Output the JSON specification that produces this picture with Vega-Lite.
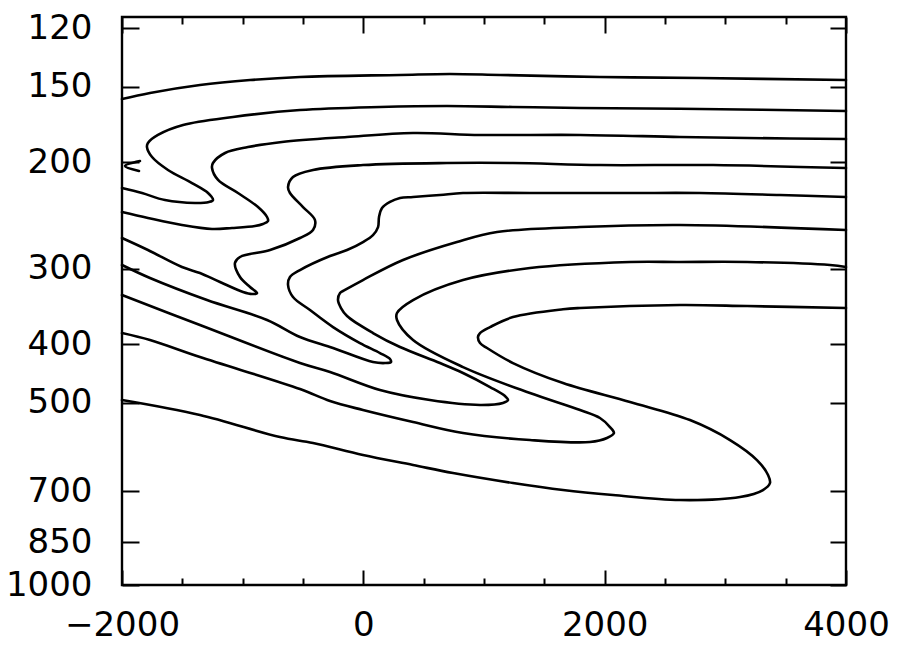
{
  "$schema": "https://vega.github.io/schema/vega-lite/v6.json",
  "width": 724,
  "height": 568,
  "autosize": {"type": "none"},
  "padding": {"left": 122, "top": 17, "right": 55, "bottom": 64},
  "background": "white",
  "config": {
    "view": {"stroke": "#000", "strokeWidth": 2.4},
    "axis": {"domain": false, "grid": false, "tickColor": "#000", "tickWidth": 2, "labelColor": "#000", "labelFont": "DejaVu Sans", "labelFontSize": 34, "labelFlush": false, "labelOverlap": false, "labelBound": false, "title": null}
  },
  "data": {"values": [
    {"c":"a","i":0,"x":-2000,"p":157.2},{"c":"a","i":1,"x":-1768,"p":153.6},{"c":"a","i":2,"x":-1354,"p":149.0},{"c":"a","i":3,"x":-939,"p":146.2},{"c":"a","i":4,"x":-525,"p":144.5},{"c":"a","i":5,"x":304,"p":143.4},{"c":"a","i":6,"x":718,"p":142.9},{"c":"a","i":7,"x":1133,"p":143.4},{"c":"a","i":8,"x":1961,"p":144.5},{"c":"a","i":9,"x":2790,"p":145.1},{"c":"a","i":10,"x":4000,"p":146.2},
    {"c":"b","i":0,"x":4000,"p":164.5},{"c":"b","i":1,"x":2790,"p":163.2},{"c":"b","i":2,"x":1796,"p":162.6},{"c":"b","i":3,"x":1240,"p":162.0},{"c":"b","i":4,"x":693,"p":161.4},{"c":"b","i":5,"x":138,"p":162.0},{"c":"b","i":6,"x":-525,"p":163.9},{"c":"b","i":7,"x":-1080,"p":168.3},{"c":"b","i":8,"x":-1494,"p":173.5},{"c":"b","i":9,"x":-1702,"p":180.2},{"c":"b","i":10,"x":-1785,"p":185.8},{"c":"b","i":11,"x":-1793,"p":188.7},{"c":"b","i":12,"x":-1751,"p":196.0},{"c":"b","i":13,"x":-1619,"p":205.9},{"c":"b","i":14,"x":-1420,"p":216.4},{"c":"b","i":15,"x":-1287,"p":224.8},{"c":"b","i":16,"x":-1246,"p":230.9},{"c":"b","i":17,"x":-1279,"p":232.6},{"c":"b","i":18,"x":-1395,"p":233.5},{"c":"b","i":19,"x":-1644,"p":230.9},{"c":"b","i":20,"x":-1834,"p":224.8},{"c":"b","i":21,"x":-2000,"p":220.5},
    {"c":"c","i":0,"x":4000,"p":183.0},{"c":"c","i":1,"x":3180,"p":182.3},{"c":"c","i":2,"x":2624,"p":181.6},{"c":"c","i":3,"x":1796,"p":180.2},{"c":"c","i":4,"x":967,"p":180.2},{"c":"c","i":5,"x":412,"p":178.9},{"c":"c","i":6,"x":-135,"p":181.6},{"c":"c","i":7,"x":-674,"p":185.1},{"c":"c","i":8,"x":-956,"p":188.7},{"c":"c","i":9,"x":-1146,"p":193.0},{"c":"c","i":10,"x":-1246,"p":200.5},{"c":"c","i":11,"x":-1254,"p":204.4},{"c":"c","i":12,"x":-1204,"p":213.9},{"c":"c","i":13,"x":-1039,"p":224.8},{"c":"c","i":14,"x":-873,"p":237.1},{"c":"c","i":15,"x":-798,"p":246.3},{"c":"c","i":16,"x":-790,"p":250.1},{"c":"c","i":17,"x":-832,"p":252.9},{"c":"c","i":18,"x":-898,"p":254.9},{"c":"c","i":19,"x":-1088,"p":256.8},{"c":"c","i":20,"x":-1254,"p":257.8},{"c":"c","i":21,"x":-1503,"p":253.9},{"c":"c","i":22,"x":-1785,"p":247.2},{"c":"c","i":23,"x":-2000,"p":241.7},
    {"c":"d","i":0,"x":4000,"p":204.4},{"c":"d","i":1,"x":2898,"p":202.1},{"c":"d","i":2,"x":1961,"p":202.1},{"c":"d","i":3,"x":1240,"p":200.5},{"c":"d","i":4,"x":693,"p":200.5},{"c":"d","i":5,"x":-3,"p":202.1},{"c":"d","i":6,"x":-417,"p":205.9},{"c":"d","i":7,"x":-583,"p":211.5},{"c":"d","i":8,"x":-624,"p":219.7},{"c":"d","i":9,"x":-608,"p":224.8},{"c":"d","i":10,"x":-500,"p":237.1},{"c":"d","i":11,"x":-401,"p":249.1},{"c":"d","i":12,"x":-417,"p":258.8},{"c":"d","i":13,"x":-525,"p":266.8},{"c":"d","i":14,"x":-773,"p":279.3},{"c":"d","i":15,"x":-1022,"p":286.8},{"c":"d","i":16,"x":-1064,"p":293.4},{"c":"d","i":17,"x":-1022,"p":309.5},{"c":"d","i":18,"x":-939,"p":321.5},{"c":"d","i":19,"x":-881,"p":329.0},{"c":"d","i":20,"x":-923,"p":330.2},{"c":"d","i":21,"x":-997,"p":327.7},{"c":"d","i":22,"x":-1188,"p":315.5},{"c":"d","i":23,"x":-1354,"p":304.8},{"c":"d","i":24,"x":-1503,"p":298.0},{"c":"d","i":25,"x":-1785,"p":279.3},{"c":"d","i":26,"x":-2000,"p":266.8},
    {"c":"e","i":0,"x":4000,"p":228.2},{"c":"e","i":1,"x":3453,"p":226.5},{"c":"e","i":2,"x":2790,"p":224.8},{"c":"e","i":3,"x":2210,"p":224.8},{"c":"e","i":4,"x":1381,"p":224.8},{"c":"e","i":5,"x":826,"p":224.8},{"c":"e","i":6,"x":635,"p":226.5},{"c":"e","i":7,"x":412,"p":228.2},{"c":"e","i":8,"x":304,"p":229.1},{"c":"e","i":9,"x":221,"p":232.6},{"c":"e","i":10,"x":155,"p":238.0},{"c":"e","i":11,"x":130,"p":246.3},{"c":"e","i":12,"x":122,"p":255.9},{"c":"e","i":13,"x":80,"p":263.8},{"c":"e","i":14,"x":-3,"p":270.9},{"c":"e","i":15,"x":-135,"p":279.3},{"c":"e","i":16,"x":-276,"p":285.7},{"c":"e","i":17,"x":-525,"p":301.4},{"c":"e","i":18,"x":-608,"p":309.5},{"c":"e","i":19,"x":-624,"p":319.1},{"c":"e","i":20,"x":-583,"p":334.0},{"c":"e","i":21,"x":-442,"p":351.0},{"c":"e","i":22,"x":-251,"p":374.5},{"c":"e","i":23,"x":-28,"p":398.0},{"c":"e","i":24,"x":138,"p":413.4},{"c":"e","i":25,"x":221,"p":423.0},{"c":"e","i":26,"x":229,"p":427.8},{"c":"e","i":27,"x":180,"p":429.5},{"c":"e","i":28,"x":80,"p":427.8},{"c":"e","i":29,"x":-251,"p":405.6},{"c":"e","i":30,"x":-525,"p":389.0},{"c":"e","i":31,"x":-798,"p":364.6},{"c":"e","i":32,"x":-1296,"p":337.9},{"c":"e","i":33,"x":-1768,"p":310.7},{"c":"e","i":34,"x":-2000,"p":295.7},
    {"c":"f","i":0,"x":4000,"p":258.8},{"c":"f","i":1,"x":2624,"p":253.9},{"c":"f","i":2,"x":1796,"p":255.9},{"c":"f","i":3,"x":1108,"p":260.8},{"c":"f","i":4,"x":776,"p":270.9},{"c":"f","i":5,"x":329,"p":290.1},{"c":"f","i":6,"x":-3,"p":313.1},{"c":"f","i":7,"x":-152,"p":325.2},{"c":"f","i":8,"x":-193,"p":329.0},{"c":"f","i":9,"x":-210,"p":337.9},{"c":"f","i":10,"x":-185,"p":348.3},{"c":"f","i":11,"x":-135,"p":359.1},{"c":"f","i":12,"x":80,"p":383.1},{"c":"f","i":13,"x":304,"p":404.1},{"c":"f","i":14,"x":635,"p":429.5},{"c":"f","i":15,"x":826,"p":446.1},{"c":"f","i":16,"x":1050,"p":470.6},{"c":"f","i":17,"x":1174,"p":487.0},{"c":"f","i":18,"x":1199,"p":494.5},{"c":"f","i":19,"x":1157,"p":500.1},{"c":"f","i":20,"x":967,"p":503.9},{"c":"f","i":21,"x":552,"p":494.5},{"c":"f","i":22,"x":138,"p":476.0},{"c":"f","i":23,"x":-276,"p":444.4},{"c":"f","i":24,"x":-525,"p":429.5},{"c":"f","i":25,"x":-1354,"p":371.6},{"c":"f","i":26,"x":-2000,"p":331.5},
    {"c":"g","i":0,"x":4000,"p":298.0},{"c":"g","i":1,"x":3867,"p":295.7},{"c":"g","i":2,"x":3180,"p":292.3},{"c":"g","i":3,"x":2624,"p":292.3},{"c":"g","i":4,"x":2210,"p":292.3},{"c":"g","i":5,"x":1381,"p":299.1},{"c":"g","i":6,"x":826,"p":313.1},{"c":"g","i":7,"x":412,"p":337.9},{"c":"g","i":8,"x":279,"p":355.0},{"c":"g","i":9,"x":279,"p":364.6},{"c":"g","i":10,"x":412,"p":393.4},{"c":"g","i":11,"x":826,"p":436.1},{"c":"g","i":12,"x":1381,"p":481.4},{"c":"g","i":13,"x":1796,"p":513.6},{"c":"g","i":14,"x":1961,"p":529.5},{"c":"g","i":15,"x":2044,"p":548.0},{"c":"g","i":16,"x":2077,"p":560.7},{"c":"g","i":17,"x":2019,"p":571.4},{"c":"g","i":18,"x":1878,"p":580.2},{"c":"g","i":19,"x":1381,"p":575.8},{"c":"g","i":20,"x":826,"p":560.7},{"c":"g","i":21,"x":412,"p":537.7},{"c":"g","i":22,"x":-3,"p":513.6},{"c":"g","i":23,"x":-276,"p":496.3},{"c":"g","i":24,"x":-525,"p":474.2},{"c":"g","i":25,"x":-1354,"p":419.8},{"c":"g","i":26,"x":-1768,"p":393.4},{"c":"g","i":27,"x":-2000,"p":383.1},
    {"c":"h","i":0,"x":4000,"p":348.3},{"c":"h","i":1,"x":3180,"p":345.7},{"c":"h","i":2,"x":2624,"p":344.4},{"c":"h","i":3,"x":1796,"p":348.3},{"c":"h","i":4,"x":1655,"p":350.0},{"c":"h","i":5,"x":1240,"p":360.5},{"c":"h","i":6,"x":1050,"p":374.5},{"c":"h","i":7,"x":967,"p":383.1},{"c":"h","i":8,"x":950,"p":389.0},{"c":"h","i":9,"x":967,"p":398.0},{"c":"h","i":10,"x":1025,"p":405.6},{"c":"h","i":11,"x":1240,"p":429.5},{"c":"h","i":12,"x":1655,"p":463.5},{"c":"h","i":13,"x":2210,"p":498.2},{"c":"h","i":14,"x":2707,"p":533.6},{"c":"h","i":15,"x":3039,"p":575.8},{"c":"h","i":16,"x":3262,"p":621.4},{"c":"h","i":17,"x":3354,"p":657.9},{"c":"h","i":18,"x":3370,"p":678.2},{"c":"h","i":19,"x":3312,"p":696.6},{"c":"h","i":20,"x":3122,"p":715.4},{"c":"h","i":21,"x":2624,"p":723.6},{"c":"h","i":22,"x":2069,"p":710.0},{"c":"h","i":23,"x":1655,"p":696.6},{"c":"h","i":24,"x":1240,"p":678.2},{"c":"h","i":25,"x":743,"p":652.9},{"c":"h","i":26,"x":412,"p":633.3},{"c":"h","i":27,"x":-3,"p":609.7},{"c":"h","i":28,"x":-417,"p":582.4},{"c":"h","i":29,"x":-691,"p":569.3},{"c":"h","i":30,"x":-1354,"p":523.5},{"c":"h","i":31,"x":-2000,"p":494.5},
    {"c":"t","i":0,"x":-1851,"p":199.0},{"c":"t","i":1,"x":-1975,"p":202.8},{"c":"t","i":2,"x":-1859,"p":206.7}
  ]},
  "resolve": {"axis": {"x": "independent", "y": "independent"}},
  "layer": [
    {
      "mark": {"type": "line", "color": "#000", "strokeWidth": 2.6, "interpolate": "catmull-rom", "strokeCap": "round", "strokeJoin": "round"},
      "encoding": {
        "x": {"field": "x", "type": "quantitative", "scale": {"domain": [-2000, 4000], "nice": false, "zero": false},
              "axis": {"orient": "bottom", "values": [-2000, 0, 2000, 4000], "format": "d", "ticks": false, "labelPadding": 23}},
        "y": {"field": "p", "type": "quantitative", "scale": {"type": "log", "domain": [115, 1000], "reverse": true, "nice": false, "zero": false},
              "axis": {"orient": "left", "values": [120, 150, 200, 300, 400, 500, 700, 850, 1000], "format": "d", "ticks": false, "labelPadding": 30, "labelBaseline": "middle"}},
        "detail": {"field": "c"},
        "order": {"field": "i", "type": "quantitative"}
      }
    },
    {
      "mark": {"type": "line", "strokeOpacity": 0},
      "encoding": {
        "x": {"field": "x", "type": "quantitative", "scale": {"domain": [-2000, 4000], "nice": false, "zero": false},
              "axis": {"orient": "bottom", "values": [-2000, 0, 2000, 4000], "tickSize": -15, "labels": false}},
        "y": {"field": "p", "type": "quantitative", "scale": {"type": "log", "domain": [115, 1000], "reverse": true, "nice": false, "zero": false},
              "axis": {"orient": "left", "values": [120, 150, 200, 300, 400, 500, 700, 850, 1000], "tickSize": -17, "labels": false}},
        "detail": {"field": "c"},
        "order": {"field": "i", "type": "quantitative"}
      }
    },
    {
      "mark": {"type": "line", "strokeOpacity": 0},
      "encoding": {
        "x": {"field": "x", "type": "quantitative", "scale": {"domain": [-2000, 4000], "nice": false, "zero": false},
              "axis": {"orient": "bottom", "values": [-1500, -1000, -500, 500, 1000, 1500, 2500, 3000, 3500], "tickSize": -7, "labels": false}},
        "y": {"field": "p", "type": "quantitative", "scale": {"type": "log", "domain": [115, 1000], "reverse": true, "nice": false, "zero": false},
              "axis": {"orient": "right", "values": [120, 150, 200, 300, 400, 500, 700, 850, 1000], "tickSize": -16, "labels": false}},
        "detail": {"field": "c"},
        "order": {"field": "i", "type": "quantitative"}
      }
    },
    {
      "mark": {"type": "line", "strokeOpacity": 0},
      "encoding": {
        "x": {"field": "x", "type": "quantitative", "scale": {"domain": [-2000, 4000], "nice": false, "zero": false},
              "axis": {"orient": "top", "values": [-2000, 0, 2000, 4000], "tickSize": -16, "labels": false}},
        "y": {"field": "p", "type": "quantitative", "scale": {"type": "log", "domain": [115, 1000], "reverse": true, "nice": false, "zero": false}, "axis": null},
        "detail": {"field": "c"},
        "order": {"field": "i", "type": "quantitative"}
      }
    },
    {
      "mark": {"type": "line", "strokeOpacity": 0},
      "encoding": {
        "x": {"field": "x", "type": "quantitative", "scale": {"domain": [-2000, 4000], "nice": false, "zero": false},
              "axis": {"orient": "top", "values": [-1500, -1000, -500, 500, 1000, 1500, 2500, 3000, 3500], "tickSize": -7, "labels": false}},
        "y": {"field": "p", "type": "quantitative", "scale": {"type": "log", "domain": [115, 1000], "reverse": true, "nice": false, "zero": false}, "axis": null},
        "detail": {"field": "c"},
        "order": {"field": "i", "type": "quantitative"}
      }
    }
  ]
}
